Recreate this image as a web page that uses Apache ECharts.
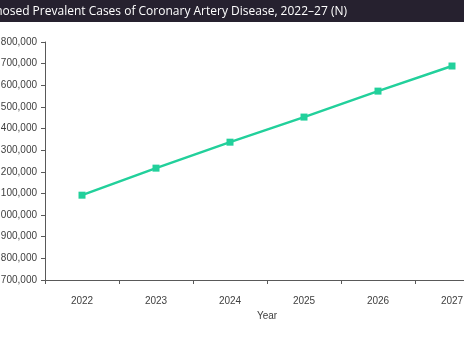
<!DOCTYPE html>
<html>
<head>
<meta charset="utf-8">
<script src="https://cdn.jsdelivr.net/npm/echarts@6/dist/echarts.min.js"></script>
<style>
html,body{margin:0;padding:0;background:#fff;}
#chart{width:464px;height:348px;}
</style>
</head>
<body>
<div id="chart"></div>
<script>
var titleText = 'Diagnosed Prevalent Cases of Coronary Artery Disease, 2022\u201327 (N)';
var years = ['2022', '2023', '2024', '2025', '2026', '2027'];
var prevalentCases = [2092000, 2217000, 2337000, 2453000, 2573000, 2689000];
var yMin = 1700000;
var yMax = 2800000;
var yStep = 100000;
var xAxisName = 'Year';

var chart = echarts.init(document.getElementById('chart'), null, {renderer: 'canvas'});
chart.setOption({
  animation: false,
  backgroundColor: '#ffffff',
  graphic: [
    {type: 'rect', left: 0, top: 0, shape: {x: 0, y: 0, width: 464, height: 22}, style: {fill: '#26212f'}, z: 10},
    {type: 'text', z: 11, style: {x: 347, y: 11.5, text: titleText, fill: '#ffffff', font: '12px "Open Sans", sans-serif', textAlign: 'right', textVerticalAlign: 'middle'}}
  ],
  grid: {left: 45, top: 42, width: 444, height: 238, containLabel: false, outerBoundsMode: 'none'},
  xAxis: {
    type: 'category',
    data: years,
    boundaryGap: true,
    name: xAxisName,
    nameLocation: 'middle',
    nameGap: 30,
    nameTextStyle: {color: '#404040', fontSize: 10, fontFamily: 'Liberation Sans'},
    axisLine: {lineStyle: {color: '#595959', width: 1}},
    axisTick: {show: true, inside: false, length: 4, lineStyle: {color: '#595959'}},
    axisLabel: {color: '#404040', fontSize: 10, fontFamily: 'Liberation Sans', margin: 16},
    splitLine: {show: false}
  },
  yAxis: {
    type: 'value',
    min: yMin,
    max: yMax,
    interval: yStep,
    axisLine: {show: true, lineStyle: {color: '#595959', width: 1}},
    axisTick: {show: true, inside: false, length: 4, lineStyle: {color: '#595959'}},
    axisLabel: {
      color: '#404040', fontSize: 10, fontFamily: 'Liberation Sans', margin: 8,
      formatter: function (v) { return v.toLocaleString('en-US'); }
    },
    splitLine: {show: false}
  },
  series: [{
    type: 'line',
    data: prevalentCases,
    symbol: 'rect',
    symbolSize: 7,
    lineStyle: {color: '#22d09b', width: 2.5},
    itemStyle: {color: '#22d09b'}
  }]
});
</script>
</body>
</html>
